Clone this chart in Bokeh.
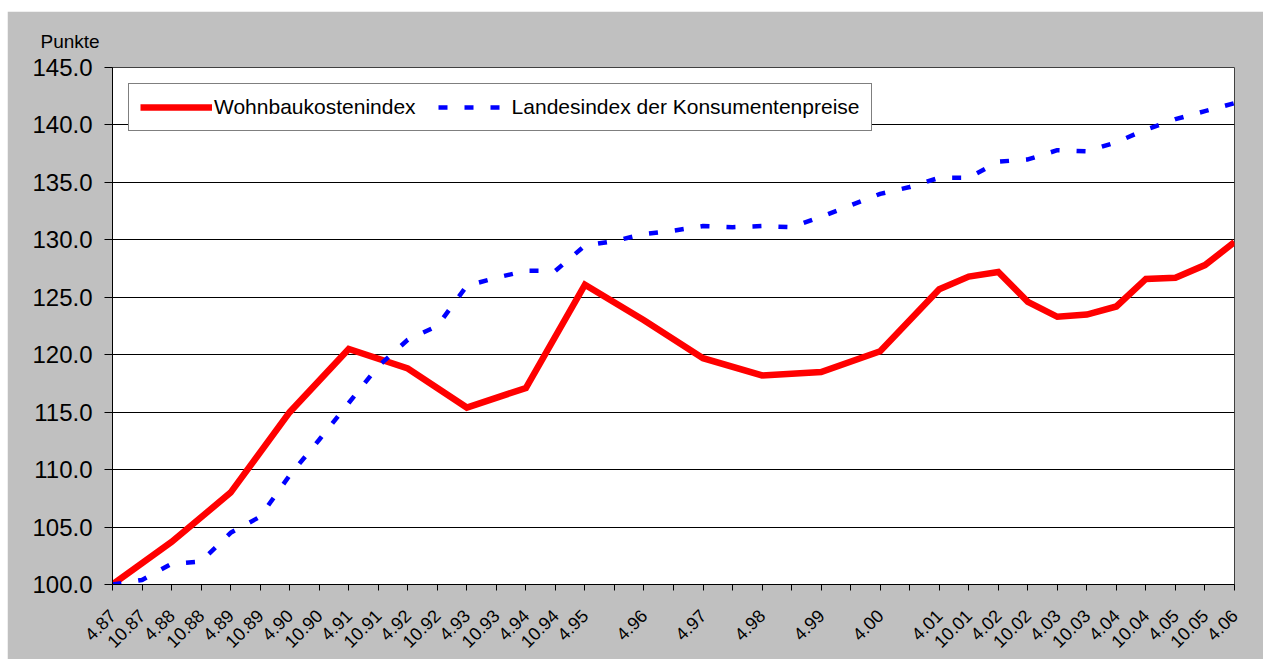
import math
from bokeh.plotting import figure
from bokeh.models import (FixedTicker, PrintfTickFormatter, Legend, LegendItem,
                          ColumnDataSource)
from bokeh.embed import file_html
from bokeh.resources import INLINE

# ---- data ----
labels = ["4.87", "10.87", "4.88", "10.88", "4.89", "10.89", "4.90", "10.90",
          "4.91", "10.91", "4.92", "10.92", "4.93", "10.93", "4.94", "10.94",
          "4.95", "", "4.96", "", "4.97", "", "4.98", "", "4.99", "", "4.00", "",
          "4.01", "10.01", "4.02", "10.02", "4.03", "10.03", "4.04", "10.04",
          "4.05", "10.05", "4.06"]

wohnbau = [100.0, None, 103.7, None, 108.0, None, 115.0, None, 120.5, None,
           118.8, None, 115.4, None, 117.1, None, 126.1, None, 123.0, None,
           119.7, None, 118.2, None, 118.5, None, 120.3, None, 125.7, 126.8,
           127.2, 124.6, 123.3, 123.5, 124.2, 126.6, 126.7, 127.8, 129.8]

landes = [100.0, 100.4, 101.8, 102.0, 104.5, 105.9, 109.5, 112.6, 115.8, 119.0,
          121.3, 122.5, 126.0, 126.7, 127.3, 127.3, 129.5, 129.9, 130.5, 130.8,
          131.2, 131.1, 131.2, 131.1, 132.0, 133.0, 134.0, 134.6, 135.4, 135.4,
          136.8, 137.0, 137.8, 137.7, 138.5, 139.6, 140.5, 141.2, 141.9]

y_ticks = [100, 105, 110, 115, 120, 125, 130, 135, 140, 145]

FONT = "Liberation Sans"

idx = list(range(len(labels)))
w_x = [i for i, v in zip(idx, wohnbau) if v is not None]
w_y = [v for v in wohnbau if v is not None]

src_w = ColumnDataSource(dict(x=w_x, y=w_y))
src_l = ColumnDataSource(dict(x=idx, y=landes))

p = figure(width=1256, height=648, x_range=(0, len(labels) - 1), y_range=(100, 145),
           output_backend="svg", toolbar_location=None,
           background_fill_color="white", border_fill_color="#C0C0C0",
           min_border_left=105, min_border_right=29, min_border_top=56,
           min_border_bottom=75)
p.margin = (11, 0, 0, 7)
p.outline_line_color = "#404040"
p.outline_line_width = 1

r1 = p.line("x", "y", source=src_w, line_color="#FF0000", line_width=6.5,
            line_join="miter")
r2 = p.line("x", "y", source=src_l, line_color="#0000FF", line_width=4.5,
            line_dash="9 17", line_cap="butt")

# title used as the unit label
p.title.text = "Punkte"
p.title.align = "left"
p.title.offset = -72
p.title.standoff = 31
p.title.text_font = FONT
p.title.text_font_size = "19px"
p.title.text_font_style = "normal"
p.title.text_color = "black"

# axes
p.xaxis.ticker = FixedTicker(ticks=idx)
p.xaxis.major_label_overrides = {i: l for i, l in enumerate(labels)}
p.xaxis.major_label_orientation = math.pi / 4
p.xaxis.major_label_text_font = FONT
p.xaxis.major_label_text_font_size = "18px"
p.xaxis.major_label_text_color = "black"
p.xaxis.major_tick_out = 6
p.xaxis.major_tick_in = 0
p.xaxis.minor_tick_line_color = None
p.xaxis.axis_line_color = "black"
p.xaxis.major_tick_line_color = "black"
p.xaxis.major_label_standoff = 22

p.yaxis.ticker = FixedTicker(ticks=y_ticks)
p.yaxis.formatter = PrintfTickFormatter(format="%.1f")
p.yaxis.major_label_text_font = FONT
p.yaxis.major_label_text_font_size = "24px"
p.yaxis.major_label_text_color = "black"
p.yaxis.major_tick_out = 8
p.yaxis.major_tick_in = 0
p.yaxis.minor_tick_line_color = None
p.yaxis.axis_line_color = "black"
p.yaxis.major_tick_line_color = "black"
p.yaxis.major_label_standoff = 12

p.xgrid.grid_line_color = None
p.ygrid.grid_line_color = "black"
p.ygrid.grid_line_width = 1

legend = Legend(items=[LegendItem(label="Wohnbaukostenindex", renderers=[r1]),
                       LegendItem(label="Landesindex der Konsumentenpreise", renderers=[r2])],
                orientation="horizontal", location="top_left", margin=16,
                padding=11, spacing=22, glyph_width=72, glyph_height=24,
                label_height=24, label_standoff=2,
                label_text_font=FONT, label_text_font_size="21px",
                label_text_color="black",
                border_line_color="black", border_line_width=1,
                background_fill_color="white", background_fill_alpha=1.0)
p.add_layout(legend)

open("out.html", "w").write(file_html(p, INLINE))
